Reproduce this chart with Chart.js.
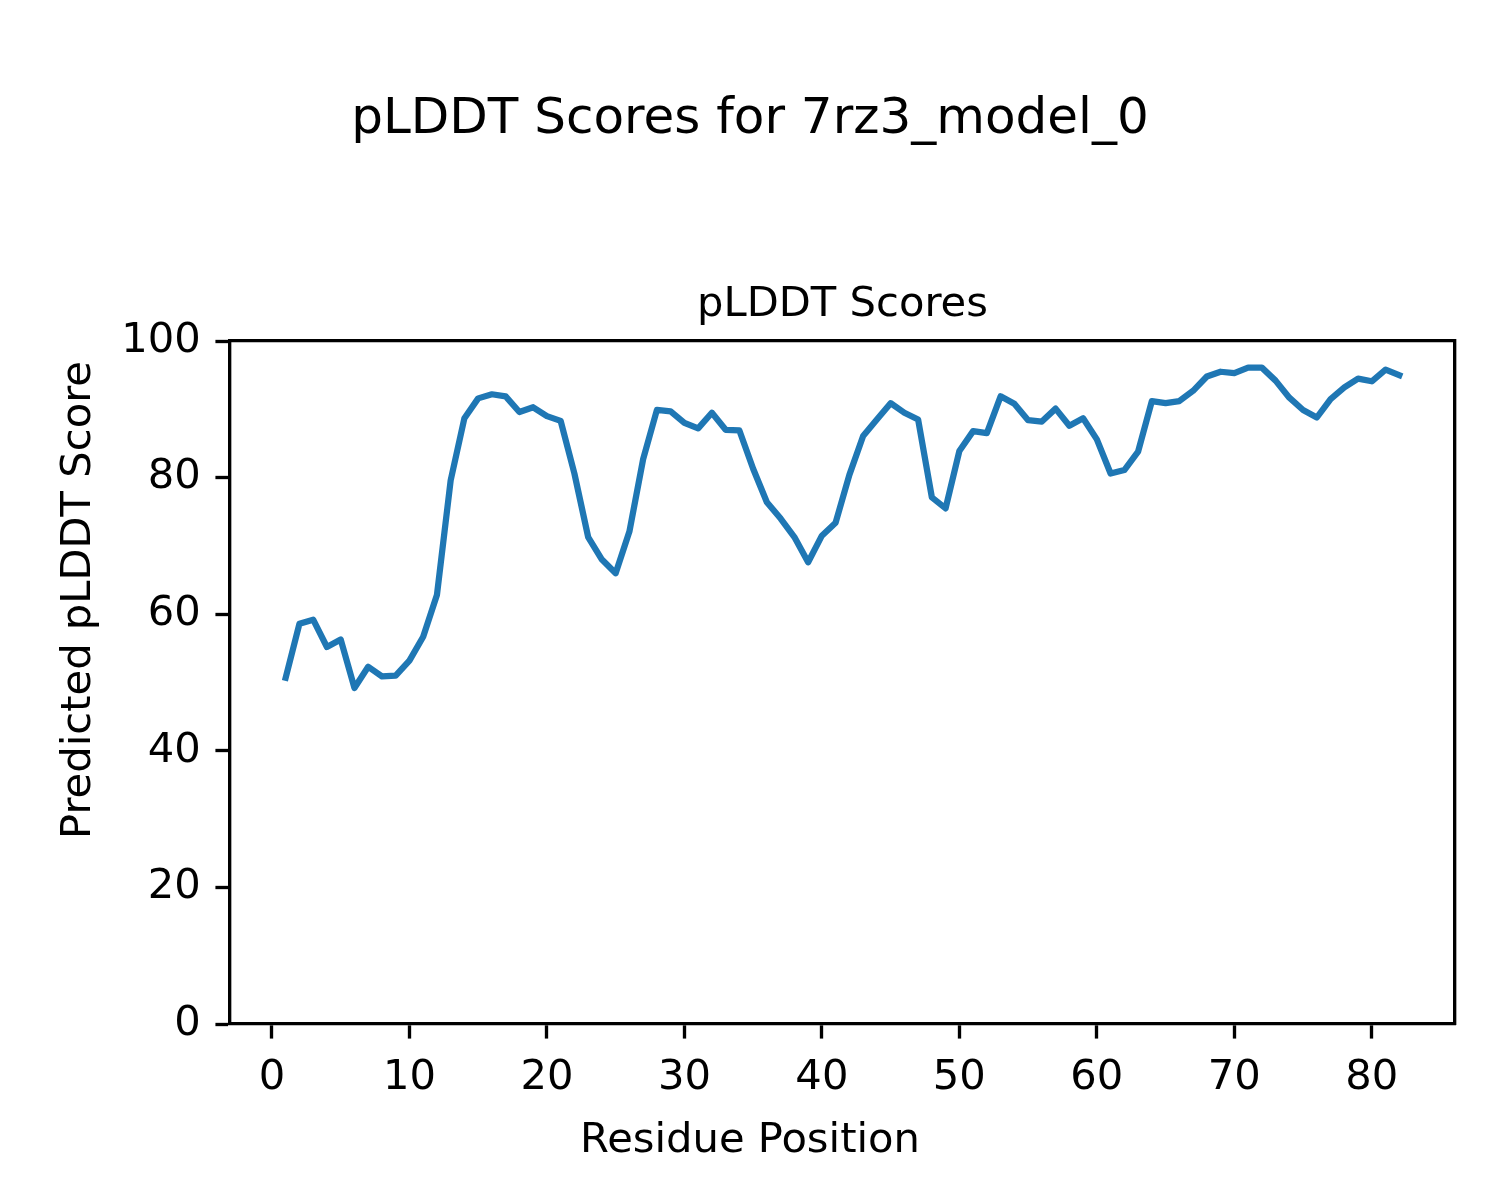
<!DOCTYPE html>
<html>
<head>
<meta charset="utf-8">
<script src="https://cdn.jsdelivr.net/npm/chart.js@4.4.1/dist/chart.umd.min.js"></script>
<style>
  html, body { margin: 0; padding: 0; background: #fff; }
  #wrap { width: 1500px; height: 1200px; }
</style>
</head>
<body>
<div id="wrap"><canvas id="plddt" width="1500" height="1200"></canvas></div>
<script>
// residue positions and predicted pLDDT per residue
const residues = [1, 2, 3, 4, 5, 6, 7, 8, 9, 10, 11, 12, 13, 14, 15, 16, 17, 18, 19, 20,
  21, 22, 23, 24, 25, 26, 27, 28, 29, 30, 31, 32, 33, 34, 35, 36, 37, 38, 39, 40,
  41, 42, 43, 44, 45, 46, 47, 48, 49, 50, 51, 52, 53, 54, 55, 56, 57, 58, 59, 60,
  61, 62, 63, 64, 65, 66, 67, 68, 69, 70, 71, 72, 73, 74, 75, 76, 77, 78, 79, 80,
  81, 82];
const scores = [50.7, 58.6, 59.2, 55.2, 56.3, 49.2, 52.3, 50.9, 51.0, 53.2,
  56.7, 62.8, 79.6, 88.7, 91.6, 92.2, 91.9, 89.6, 90.3, 89.0,
  88.3, 80.6, 71.3, 68.0, 66.0, 72.1, 82.7, 89.9, 89.7, 88.0,
  87.2, 89.5, 87.0, 86.9, 81.3, 76.4, 74.0, 71.3, 67.6, 71.5,
  73.4, 80.4, 86.1, 88.5, 90.9, 89.5, 88.5, 77.1, 75.5, 83.9,
  86.8, 86.5, 91.9, 90.8, 88.4, 88.2, 90.1, 87.6, 88.7, 85.6,
  80.6, 81.1, 83.8, 91.2, 90.9, 91.2, 92.7, 94.8, 95.5, 95.3,
  96.1, 96.1, 94.2, 91.7, 89.9, 88.8, 91.5, 93.2, 94.5, 94.1,
  95.8, 95.0];
const xTicks = [0, 10, 20, 30, 40, 50, 60, 70, 80];
const yTicks = [0, 20, 40, 60, 80, 100];

const FONT = '"DejaVu Sans", "Liberation Sans", sans-serif';
const PT = 300 / 72;            // figure was 5x4 in at 300 dpi
const spineW = 0.8 * PT;
const tickLen = 3.5 * PT;

// x range padded 5% like matplotlib autoscale
const xMin = residues[0] - 0.05 * (residues[residues.length - 1] - residues[0]);
const xMax = residues[residues.length - 1] + 0.05 * (residues[residues.length - 1] - residues[0]);

const setTicks = vals => scale => { scale.ticks = vals.map(v => ({ value: v })); };

// figure level labels (fig.supxlabel / fig.supylabel), centred on the whole figure
const figLabels = {
  id: 'figLabels',
  afterDraw(chart) {
    const ctx = chart.ctx;
    ctx.save();
    ctx.fillStyle = '#000';
    ctx.font = (10 * PT) + 'px ' + FONT;
    ctx.textAlign = 'center';
    ctx.textBaseline = 'alphabetic';
    ctx.fillText('Residue Position', chart.width / 2, 1152);
    ctx.translate(90, chart.height / 2);
    ctx.rotate(-Math.PI / 2);
    ctx.fillText('Predicted pLDDT Score', 0, 0);
    ctx.restore();
  }
};

new Chart(document.getElementById('plddt'), {
  type: 'line',
  data: {
    datasets: [{
      label: 'pLDDT',
      data: residues.map((r, i) => ({ x: r, y: scores[i] })),
      borderColor: '#1f77b4',
      borderWidth: 1.5 * PT,
      borderJoinStyle: 'round',
      borderCapStyle: 'square',
      pointRadius: 0,
      tension: 0,
      fill: false,
      xAxisID: 'x',
      yAxisID: 'y'
    }]
  },
  options: {
    responsive: false,
    animation: false,
    events: [],
    layout: { padding: 0 },
    plugins: {
      legend: { display: false },
      tooltip: { enabled: false },
      title: {
        display: true,
        text: 'pLDDT Scores for 7rz3_model_0',
        color: '#000',
        font: { family: FONT, size: 12 * PT, weight: 'normal', lineHeight: 1.2 },
        padding: { top: 89.7, bottom: 0 }
      }
    },
    scales: {
      x: {
        type: 'linear',
        position: 'bottom',
        min: xMin,
        max: xMax,
        afterBuildTicks: setTicks(xTicks),
        afterFit: s => { s.height = 176; },
        grid: { display: true, drawOnChartArea: false, drawTicks: true, tickLength: tickLen, tickWidth: spineW, tickColor: '#000' },
        border: { display: true, color: '#000', width: spineW },
        ticks: { color: '#000', padding: tickLen, maxRotation: 0, autoSkip: false, font: { family: FONT, size: 10 * PT } }
      },
      xTop: {
        type: 'linear',
        position: 'top',
        min: xMin,
        max: xMax,
        afterFit: s => { s.height = 341 - 149.7; },
        grid: { display: false },
        border: { display: true, color: '#000', width: spineW },
        ticks: { display: false },
        title: {
          display: true,
          text: 'pLDDT Scores',
          color: '#000',
          font: { family: FONT, size: 10 * PT, lineHeight: 1.2 },
          padding: { top: 130.9, bottom: 0 }
        }
      },
      y: {
        type: 'linear',
        position: 'left',
        min: 0,
        max: 100,
        afterBuildTicks: setTicks(yTicks),
        afterFit: s => { s.width = 230; },
        grid: { display: true, drawOnChartArea: false, drawTicks: true, tickLength: tickLen, tickWidth: spineW, tickColor: '#000' },
        border: { display: true, color: '#000', width: spineW },
        ticks: { color: '#000', padding: tickLen, font: { family: FONT, size: 10 * PT } }
      },
      yRight: {
        type: 'linear',
        position: 'right',
        min: 0,
        max: 100,
        afterFit: s => { s.width = 45; },
        grid: { display: false },
        border: { display: true, color: '#000', width: spineW },
        ticks: { display: false }
      }
    }
  },
  plugins: [figLabels]
});
</script>
</body>
</html>
